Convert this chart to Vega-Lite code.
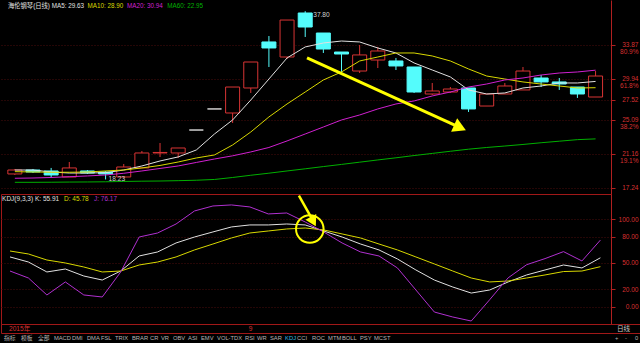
{
  "$schema": "https://vega.github.io/schema/vega-lite/v6.json",
  "background": "#000000",
  "padding": 0,
  "spacing": 0,
  "bounds": "flush",
  "resolve": {"scale": {"color": "independent", "fill": "independent", "stroke": "independent"}},
  "config": {
    "view": {"stroke": "#a01818", "strokeWidth": 1},
    "font": "Liberation Sans",
    "text": {"font": "Liberation Sans, Noto Sans CJK SC"},
    "axisY": {"labelOverlap": false, "labelAlign": "right", "labelPadding": 23, "tickSize": 4, "tickColor": "#b02020", "domainColor": "#b02020",
      "labelColor": "#d83030", "labelFont": "Liberation Sans", "labelFontSize": 6.5, "labelBound": false, "minExtent": 30, "maxExtent": 30,
      "grid": true, "gridColor": "#4a0c0c", "gridDash": [1, 2]}
  },
  "datasets": {
    "bars": [
      {"i":0,"o":18.87,"h":19.45,"l":18.75,"c":19.33,"dir":"up","MA5":19.33,"MA10":19.14,"MA20":18.37,"MA60":17.90,"K":56.9,"D":63.7,"J":40.8},
      {"i":1,"o":19.33,"h":19.45,"l":18.98,"c":19.10,"dir":"down","MA5":19.33,"MA10":19.10,"MA20":18.40,"MA60":17.90,"K":51.1,"D":60.3,"J":32.8},
      {"i":2,"o":19.22,"h":19.57,"l":18.40,"c":18.75,"dir":"down","MA5":19.10,"MA10":19.07,"MA20":18.46,"MA60":17.91,"K":39.7,"D":53.4,"J":13.4},
      {"i":3,"o":18.52,"h":20.26,"l":18.52,"c":19.57,"dir":"up","MA5":18.98,"MA10":19.07,"MA20":18.55,"MA60":17.93,"K":43.1,"D":50.0,"J":28.3},
      {"i":4,"o":19.22,"h":19.33,"l":18.87,"c":18.98,"dir":"down","MA5":18.98,"MA10":19.10,"MA20":18.64,"MA60":17.94,"K":35.1,"D":45.4,"J":13.4},
      {"i":5,"o":19.10,"h":19.22,"l":18.23,"c":18.87,"dir":"down","MA5":19.02,"MA10":19.22,"MA20":18.75,"MA60":17.96,"K":30.5,"D":39.7,"J":11.1},
      {"i":6,"o":18.52,"h":20.03,"l":18.40,"c":19.68,"dir":"up","MA5":19.33,"MA10":19.33,"MA20":18.95,"MA60":18.00,"K":40.8,"D":40.8,"J":39.7},
      {"i":7,"o":19.57,"h":21.54,"l":19.57,"c":21.31,"dir":"up","MA5":19.80,"MA10":19.57,"MA20":19.22,"MA60":18.03,"K":58.0,"D":47.7,"J":79.7},
      {"i":8,"o":21.31,"h":22.47,"l":20.84,"c":21.37,"dir":"up","MA5":20.38,"MA10":19.86,"MA20":19.51,"MA60":18.05,"K":62.6,"D":51.1,"J":84.3},
      {"i":9,"o":21.31,"h":21.89,"l":20.73,"c":21.89,"dir":"up","MA5":20.85,"MA10":20.26,"MA20":19.80,"MA60":18.09,"K":72.9,"D":56.9,"J":94.6},
      {"i":10,"o":23.98,"h":23.98,"l":23.98,"c":23.98,"dir":"flat","MA5":21.66,"MA10":20.73,"MA20":20.21,"MA60":18.14,"K":79.7,"D":64.9,"J":109.5},
      {"i":11,"o":26.43,"h":26.43,"l":26.43,"c":26.43,"dir":"flat","MA5":23.52,"MA10":21.08,"MA20":20.61,"MA60":18.23,"K":85.5,"D":71.7,"J":115.2},
      {"i":12,"o":25.96,"h":28.98,"l":24.80,"c":28.98,"dir":"up","MA5":25.15,"MA10":22.24,"MA20":20.98,"MA60":18.46,"K":91.2,"D":78.6,"J":116.4},
      {"i":13,"o":28.87,"h":31.89,"l":28.29,"c":31.89,"dir":"up","MA5":27.47,"MA10":23.75,"MA20":21.43,"MA60":18.72,"K":93.5,"D":84.3,"J":114.1},
      {"i":14,"o":34.22,"h":34.91,"l":31.31,"c":33.52,"dir":"down","MA5":29.91,"MA10":25.50,"MA20":21.95,"MA60":18.96,"K":93.5,"D":86.6,"J":106.1},
      {"i":15,"o":32.47,"h":36.77,"l":32.24,"c":36.77,"dir":"up","MA5":32.36,"MA10":27.01,"MA20":22.71,"MA60":19.22,"K":94.6,"D":88.9,"J":107.2},
      {"i":16,"o":37.59,"h":37.80,"l":34.80,"c":35.96,"dir":"down","MA5":33.64,"MA10":28.40,"MA20":23.52,"MA60":19.47,"K":93.5,"D":90.0,"J":96.9},
      {"i":17,"o":35.26,"h":35.26,"l":32.94,"c":33.40,"dir":"down","MA5":34.10,"MA10":29.80,"MA20":24.33,"MA60":19.73,"K":86.6,"D":87.8,"J":85.5},
      {"i":18,"o":33.05,"h":33.05,"l":30.73,"c":32.82,"dir":"down","MA5":34.33,"MA10":30.73,"MA20":25.15,"MA60":19.98,"K":79.7,"D":83.2,"J":72.9},
      {"i":19,"o":30.84,"h":33.87,"l":30.61,"c":32.71,"dir":"up","MA5":34.22,"MA10":32.01,"MA20":25.73,"MA60":20.24,"K":71.7,"D":78.6,"J":62.6},
      {"i":20,"o":32.12,"h":33.64,"l":31.19,"c":33.17,"dir":"up","MA5":33.52,"MA10":32.47,"MA20":26.43,"MA60":20.50,"K":64.9,"D":71.7,"J":58.0},
      {"i":21,"o":32.01,"h":32.36,"l":30.96,"c":31.43,"dir":"down","MA5":32.94,"MA10":32.94,"MA20":27.01,"MA60":20.75,"K":54.6,"D":64.9,"J":44.3},
      {"i":22,"o":31.31,"h":31.31,"l":28.29,"c":28.40,"dir":"down","MA5":31.78,"MA10":32.94,"MA20":27.36,"MA60":21.01,"K":42.0,"D":56.9,"J":19.1},
      {"i":23,"o":28.17,"h":29.45,"l":28.05,"c":28.52,"dir":"up","MA5":30.96,"MA10":32.59,"MA20":27.94,"MA60":21.26,"K":30.5,"D":48.9,"J":-6.1},
      {"i":24,"o":28.40,"h":28.98,"l":28.29,"c":28.75,"dir":"up","MA5":30.15,"MA10":32.01,"MA20":28.40,"MA60":21.51,"K":22.5,"D":40.8,"J":-11.8},
      {"i":25,"o":28.87,"h":28.87,"l":26.08,"c":26.43,"dir":"down","MA5":28.64,"MA10":31.08,"MA20":28.98,"MA60":21.75,"K":15.6,"D":32.8,"J":-16.4},
      {"i":26,"o":26.77,"h":28.17,"l":26.77,"c":28.17,"dir":"up","MA5":28.17,"MA10":30.26,"MA20":29.33,"MA60":21.95,"K":19.1,"D":28.3,"J":8.0},
      {"i":27,"o":28.17,"h":29.45,"l":28.17,"c":29.10,"dir":"up","MA5":28.29,"MA10":29.91,"MA20":29.80,"MA60":22.12,"K":28.3,"D":29.4,"J":33.0},
      {"i":28,"o":28.64,"h":31.31,"l":28.64,"c":30.84,"dir":"up","MA5":28.87,"MA10":29.57,"MA20":30.03,"MA60":22.30,"K":36.3,"D":32.8,"J":48.0},
      {"i":29,"o":30.03,"h":30.38,"l":28.98,"c":29.57,"dir":"down","MA5":29.10,"MA10":29.33,"MA20":30.38,"MA60":22.50,"K":42.0,"D":36.3,"J":55.0},
      {"i":30,"o":29.57,"h":30.03,"l":28.64,"c":29.33,"dir":"down","MA5":29.45,"MA10":29.10,"MA20":30.61,"MA60":22.68,"K":47.7,"D":40.2,"J":63.0},
      {"i":31,"o":28.98,"h":28.98,"l":27.71,"c":28.17,"dir":"down","MA5":29.45,"MA10":28.87,"MA20":30.73,"MA60":22.86,"K":44.3,"D":40.8,"J":52.3},
      {"i":32,"o":27.82,"h":30.84,"l":27.82,"c":30.26,"dir":"up","MA5":29.63,"MA10":28.90,"MA20":30.94,"MA60":22.95,"K":55.91,"D":45.78,"J":76.17}
    ],
    "arrows": [
      {"panel":"main","i1":16.10,"v1":32.36,"i2":24.33,"v2":24.46,"hi":24.53,"hv":24.26},
      {"panel":"kdj","i1":15.66,"v1":127.0,"i2":16.34,"v2":101.5,"hi":16.44,"hv":97.4,"ci":16.25,"cv":88.9}
    ]
  },
  "vconcat": [
    {
      "width": 610,
      "height": 194,
      "view": {"stroke": null},
      "layer": [
        {
          "data": {"name": "bars"},
          "mark": {"type": "rule", "strokeWidth": 1},
          "encoding": {
            "x": {"field": "i", "type": "quantitative", "scale": {"domain": [-0.4878, 32.575], "nice": false, "zero": false}, "axis": null},
            "y": {"field": "l", "type": "quantitative", "scale": {"domain": [16.54, 39.10], "nice": false, "zero": false},
              "axis": {"orient": "right", "values": [17.24, 21.16, 25.09, 27.52, 29.94, 33.87], "tickCount": 20,
                "labelExpr": "datum.value == 33.87 ? ['33.87','80.9%'] : datum.value == 29.94 ? ['29.94','61.8%'] : datum.value == 25.09 ? ['25.09','38.2%'] : datum.value == 21.16 ? ['21.16','19.1%'] : format(datum.value, '.2f')",
                "labelBaseline": "top", "labelOffset": -3.5, "labelLineHeight": 7, "labelOverlap": false, "title": null}},
            "y2": {"field": "h"},
            "stroke": {"field": "dir", "type": "nominal", "scale": {"domain": ["up", "down", "flat"], "range": ["#d83434", "#54fcfc", "#d0d0d0"]}, "legend": null}
          }
        },
        {
          "data": {"name": "bars"},
          "mark": {"type": "bar", "size": 14, "strokeWidth": 1},
          "encoding": {
            "x": {"field": "i", "type": "quantitative", "scale": {"domain": [-0.4878, 32.575], "nice": false, "zero": false}, "axis": null},
            "y": {"field": "o", "type": "quantitative", "scale": {"domain": [16.54, 39.10], "nice": false, "zero": false}},
            "y2": {"field": "c"},
            "fill": {"field": "dir", "type": "nominal", "scale": {"domain": ["up", "down", "flat"], "range": ["#000000", "#54fcfc", "#d0d0d0"]}, "legend": null},
            "stroke": {"field": "dir", "type": "nominal", "scale": {"domain": ["up", "down", "flat"], "range": ["#d83434", "#54fcfc", "#d0d0d0"]}, "legend": null}
          }
        },
        {
          "data": {"name": "bars"},
          "transform": [{"fold": ["MA5", "MA10", "MA20", "MA60"], "as": ["name", "ma"]}],
          "mark": {"type": "line", "strokeWidth": 1},
          "encoding": {
            "x": {"field": "i", "type": "quantitative", "scale": {"domain": [-0.4878, 32.575], "nice": false, "zero": false}, "axis": null},
            "y": {"field": "ma", "type": "quantitative", "scale": {"domain": [16.54, 39.10], "nice": false, "zero": false}},
            "color": {"field": "name", "type": "nominal", "scale": {"domain": ["MA5", "MA10", "MA20", "MA60"], "range": ["#e0e0e0", "#d8d800", "#d020d0", "#00b000"]}, "legend": null},
            "detail": {"field": "name"}
          }
        },
        {
          "data": {"values": [
            {"name": "MA5", "text": "海伦钢琴(日线) MA5: 29.63", "i": -0.38},
            {"name": "MA10", "text": "MA10: 28.90", "i": 4.01},
            {"name": "MA20", "text": "MA20: 30.94", "i": 6.18},
            {"name": "MA60", "text": "MA60: 22.95", "i": 8.40}
          ]},
          "mark": {"type": "text", "align": "left", "baseline": "middle", "fontSize": 6.3},
          "encoding": {
            "x": {"field": "i", "type": "quantitative", "scale": {"domain": [-0.4878, 32.575], "nice": false, "zero": false}, "axis": null},
            "y": {"datum": 38.44, "type": "quantitative", "scale": {"domain": [16.54, 39.10], "nice": false, "zero": false}},
            "text": {"field": "text"},
            "color": {"field": "name", "type": "nominal", "scale": {"domain": ["MA5", "MA10", "MA20", "MA60"], "range": ["#e0e0e0", "#d8d800", "#d020d0", "#00b000"]}, "legend": null}
          }
        },
        {
          "data": {"name": "bars"},
          "transform": [{"filter": "datum.i == 16"}],
          "mark": {"type": "text", "align": "left", "baseline": "middle", "fontSize": 6.6, "dx": 8, "dy": 4, "color": "#d0d0d0"},
          "encoding": {
            "x": {"field": "i", "type": "quantitative", "scale": {"domain": [-0.4878, 32.575], "nice": false, "zero": false}, "axis": null},
            "y": {"field": "h", "type": "quantitative", "scale": {"domain": [16.54, 39.10], "nice": false, "zero": false}},
            "text": {"field": "h", "type": "quantitative", "format": ".2f"}
          }
        },
        {
          "data": {"name": "bars"},
          "transform": [{"filter": "datum.i == 5"}],
          "mark": {"type": "text", "align": "left", "baseline": "middle", "fontSize": 6.6, "dx": 3, "dy": 0, "color": "#d0d0d0"},
          "encoding": {
            "x": {"field": "i", "type": "quantitative", "scale": {"domain": [-0.4878, 32.575], "nice": false, "zero": false}, "axis": null},
            "y": {"field": "l", "type": "quantitative", "scale": {"domain": [16.54, 39.10], "nice": false, "zero": false}},
            "text": {"field": "l", "type": "quantitative", "format": ".2f"}
          }
        },
        {
          "data": {"name": "arrows"},
          "transform": [{"filter": "datum.panel == 'main'"}],
          "mark": {"type": "rule", "strokeWidth": 3, "color": "#ffff00"},
          "encoding": {
            "x": {"field": "i1", "type": "quantitative", "scale": {"domain": [-0.4878, 32.575], "nice": false, "zero": false}, "axis": null},
            "y": {"field": "v1", "type": "quantitative", "scale": {"domain": [16.54, 39.10], "nice": false, "zero": false}},
            "x2": {"field": "i2"},
            "y2": {"field": "v2"}
          }
        },
        {
          "data": {"name": "arrows"},
          "transform": [{"filter": "datum.panel == 'main'"}],
          "mark": {"type": "point", "shape": "triangle-right", "filled": true, "size": 220, "angle": 24, "color": "#ffff00", "opacity": 1},
          "encoding": {
            "x": {"field": "hi", "type": "quantitative", "scale": {"domain": [-0.4878, 32.575], "nice": false, "zero": false}, "axis": null},
            "y": {"field": "hv", "type": "quantitative", "scale": {"domain": [16.54, 39.10], "nice": false, "zero": false}}
          }
        },
        {
          "mark": {"type": "rule", "color": "#a01818", "strokeWidth": 1},
          "encoding": {
            "x": {"datum": -0.4878, "type": "quantitative", "scale": {"domain": [-0.4878, 32.575], "nice": false, "zero": false}, "axis": null}
          }
        }
      ]
    },
    {
      "width": 610,
      "height": 130,
      "layer": [
        {
          "data": {"name": "bars"},
          "transform": [{"fold": ["K", "D", "J"], "as": ["name", "kv"]}],
          "mark": {"type": "line", "strokeWidth": 1},
          "encoding": {
            "x": {"field": "i", "type": "quantitative", "scale": {"domain": [-0.4878, 32.575], "nice": false, "zero": false}, "axis": null},
            "y": {"field": "kv", "type": "quantitative", "scale": {"domain": [-19.8, 128.9], "nice": false, "zero": false},
              "axis": {"orient": "right", "values": [0, 20, 50, 80, 100], "tickCount": 20, "format": ".2f", "labelBaseline": "middle", "labelOverlap": false, "title": null}},
            "color": {"field": "name", "type": "nominal", "scale": {"domain": ["K", "D", "J"], "range": ["#e0e0e0", "#d8d800", "#b030d0"]}, "legend": null},
            "detail": {"field": "name"}
          }
        },
        {
          "data": {"values": [
            {"name": "K", "text": "KDJ(9,3,3) K: 55.91", "i": -0.43},
            {"name": "D", "text": "D: 45.78", "i": 2.93},
            {"name": "J", "text": "J: 76.17", "i": 4.55}
          ]},
          "mark": {"type": "text", "align": "left", "baseline": "middle", "fontSize": 6.5},
          "encoding": {
            "x": {"field": "i", "type": "quantitative", "scale": {"domain": [-0.4878, 32.575], "nice": false, "zero": false}, "axis": null},
            "y": {"datum": 123.2, "type": "quantitative", "scale": {"domain": [-19.8, 128.9], "nice": false, "zero": false}},
            "text": {"field": "text"},
            "color": {"field": "name", "type": "nominal", "scale": {"domain": ["K", "D", "J"], "range": ["#e0e0e0", "#d8d800", "#b030d0"]}, "legend": null}
          }
        },
        {
          "data": {"name": "arrows"},
          "transform": [{"filter": "datum.panel == 'kdj'"}],
          "mark": {"type": "point", "shape": "circle", "filled": false, "size": 760, "strokeWidth": 2, "color": "#ffff00", "opacity": 1},
          "encoding": {
            "x": {"field": "ci", "type": "quantitative", "scale": {"domain": [-0.4878, 32.575], "nice": false, "zero": false}, "axis": null},
            "y": {"field": "cv", "type": "quantitative", "scale": {"domain": [-19.8, 128.9], "nice": false, "zero": false}}
          }
        },
        {
          "data": {"name": "arrows"},
          "transform": [{"filter": "datum.panel == 'kdj'"}],
          "mark": {"type": "rule", "strokeWidth": 2.5, "color": "#ffff00"},
          "encoding": {
            "x": {"field": "i1", "type": "quantitative", "scale": {"domain": [-0.4878, 32.575], "nice": false, "zero": false}, "axis": null},
            "y": {"field": "v1", "type": "quantitative", "scale": {"domain": [-19.8, 128.9], "nice": false, "zero": false}},
            "x2": {"field": "i2"},
            "y2": {"field": "v2"}
          }
        },
        {
          "data": {"name": "arrows"},
          "transform": [{"filter": "datum.panel == 'kdj'"}],
          "mark": {"type": "point", "shape": "triangle-right", "filled": true, "size": 150, "angle": 62, "color": "#ffff00", "opacity": 1},
          "encoding": {
            "x": {"field": "hi", "type": "quantitative", "scale": {"domain": [-0.4878, 32.575], "nice": false, "zero": false}, "axis": null},
            "y": {"field": "hv", "type": "quantitative", "scale": {"domain": [-19.8, 128.9], "nice": false, "zero": false}}
          }
        }
      ]
    },
    {
      "width": 640,
      "height": 9,
      "layer": [
        {
          "data": {"values": [
            {"label": "2015年", "i": 0, "kind": "date"},
            {"label": "9", "i": 13, "kind": "date"},
            {"label": "日线", "i": 32.95, "kind": "btn"}
          ]},
          "mark": {"type": "text", "align": "left", "baseline": "middle", "fontSize": 6.6, "dx": -1},
          "encoding": {
            "x": {"field": "i", "type": "quantitative", "scale": {"domain": [-0.4878, 34.2], "nice": false, "zero": false}, "axis": null},
            "text": {"field": "label"},
            "color": {"field": "kind", "type": "nominal", "scale": {"domain": ["date", "btn"], "range": ["#d83030", "#c8c8c8"]}, "legend": null}
          }
        },
        {
          "mark": {"type": "rule", "color": "#a01818", "strokeWidth": 1},
          "encoding": {
            "x": {"datum": 32.575, "type": "quantitative", "scale": {"domain": [-0.4878, 34.2], "nice": false, "zero": false}, "axis": null}
          }
        }
      ]
    },
    {
      "width": 640,
      "height": 10,
      "view": {"stroke": null},
      "data": {"values": [
        {"label": "指标", "i": -0.33, "kind": "btn"},
        {"label": "模板", "i": 0.60, "kind": "btn"},
        {"label": "全部", "i": 1.52, "kind": "btn"},
        {"label": "MACD", "i": 2.38, "kind": "btn"},
        {"label": "DMI", "i": 3.36, "kind": "btn"},
        {"label": "DMA", "i": 4.17, "kind": "btn"},
        {"label": "FSL", "i": 4.93, "kind": "btn"},
        {"label": "TRIX", "i": 5.69, "kind": "btn"},
        {"label": "BRAR", "i": 6.61, "kind": "btn"},
        {"label": "CR", "i": 7.59, "kind": "btn"},
        {"label": "VR", "i": 8.18, "kind": "btn"},
        {"label": "OBV", "i": 8.83, "kind": "btn"},
        {"label": "ASI", "i": 9.65, "kind": "btn"},
        {"label": "EMV", "i": 10.35, "kind": "btn"},
        {"label": "VOL-TDX", "i": 11.22, "kind": "btn"},
        {"label": "RSI", "i": 12.74, "kind": "btn"},
        {"label": "WR", "i": 13.39, "kind": "btn"},
        {"label": "SAR", "i": 14.09, "kind": "btn"},
        {"label": "KDJ", "i": 14.91, "kind": "hi"},
        {"label": "CCI", "i": 15.56, "kind": "btn"},
        {"label": "ROC", "i": 16.37, "kind": "btn"},
        {"label": "MTM", "i": 17.24, "kind": "btn"},
        {"label": "BOLL", "i": 17.99, "kind": "btn"},
        {"label": "PSY", "i": 18.97, "kind": "btn"},
        {"label": "MCST", "i": 19.73, "kind": "btn"},
        {"label": "+", "i": 32.79, "kind": "btn"},
        {"label": "-", "i": 33.33, "kind": "btn"},
        {"label": "0", "i": 33.88, "kind": "btn"}
      ]},
      "mark": {"type": "text", "align": "left", "baseline": "middle", "fontSize": 5.8},
      "encoding": {
        "x": {"field": "i", "type": "quantitative", "scale": {"domain": [-0.4878, 34.2], "nice": false, "zero": false}, "axis": null},
        "text": {"field": "label"},
        "color": {"field": "kind", "type": "nominal", "scale": {"domain": ["btn", "hi"], "range": ["#b4b4b4", "#30b8e0"]}, "legend": null}
      }
    }
  ]
}
